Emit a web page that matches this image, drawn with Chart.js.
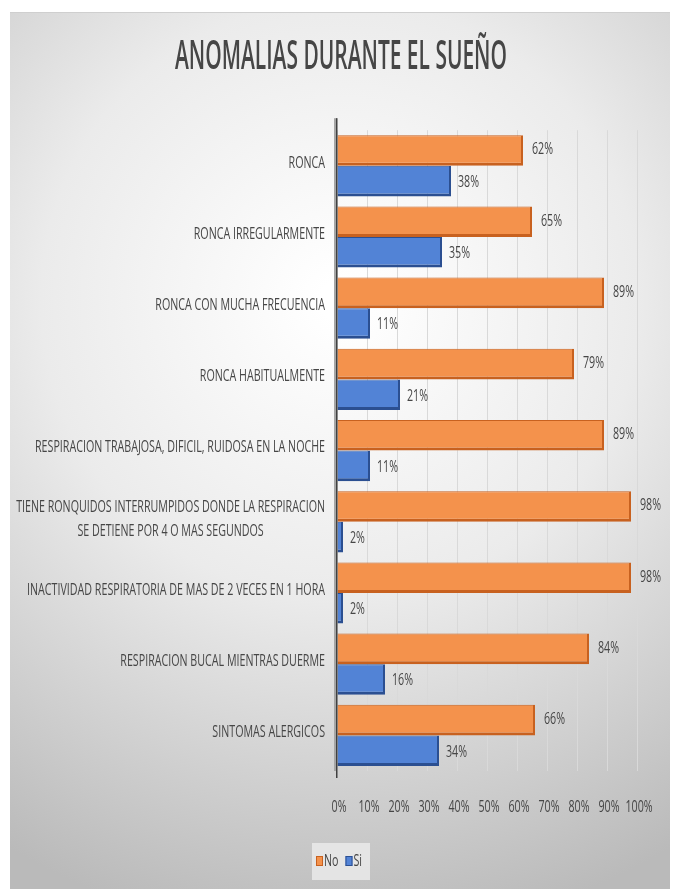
<!DOCTYPE html>
<html>
<head>
<meta charset="utf-8">
<script src="https://cdn.jsdelivr.net/npm/chart.js@4/dist/chart.umd.min.js"></script>
<style>
  html, body { margin: 0; padding: 0; background: #fff; }
  #wrap { width: 676px; height: 889px; }
</style>
</head>
<body>
<div id="wrap"><canvas id="sleepChart"></canvas></div>
<script>
const title = 'ANOMALIAS DURANTE EL SUEÑO';
const categories = [
  'RONCA',
  'RONCA IRREGULARMENTE',
  'RONCA CON MUCHA FRECUENCIA',
  'RONCA HABITUALMENTE',
  'RESPIRACION TRABAJOSA, DIFICIL, RUIDOSA EN LA NOCHE',
  ['TIENE RONQUIDOS INTERRUMPIDOS DONDE LA RESPIRACION', 'SE DETIENE POR 4 O MAS SEGUNDOS'],
  'INACTIVIDAD RESPIRATORIA DE MAS DE 2 VECES EN 1 HORA',
  'RESPIRACION BUCAL MIENTRAS DUERME',
  'SINTOMAS ALERGICOS',
];
const noValues = [62, 65, 89, 79, 89, 98, 98, 84, 66];
const siValues = [38, 35, 11, 21, 11, 2, 2, 16, 34];
const xTicks = [0, 10, 20, 30, 40, 50, 60, 70, 80, 90, 100];

const FAMILY = '"Open Sans", "Noto Sans", sans-serif';
const TEXT = '#464646';
const LABEL_FONT = '17px ' + FAMILY;

// Excel's narrow face isn't installed, so squeeze a normal one horizontally
function squeezed(ctx, text, x, y, align, sx) {
  ctx.save();
  ctx.translate(x, y);
  ctx.scale(sx, 1);
  ctx.textAlign = align;
  ctx.fillText(text, 0, 0);
  ctx.restore();
}

function fitScale(ctx, font, text, target) {
  ctx.save();
  ctx.font = font;
  const w = ctx.measureText(text).width;
  ctx.restore();
  return target / w;
}

const backdrop = {
  id: 'backdrop',
  beforeDraw(chart) {
    const { ctx, width, height } = chart;
    ctx.save();
    ctx.fillStyle = '#ffffff';
    ctx.fillRect(0, 0, width, height);
    const g = ctx.createRadialGradient(340, 300, 20, 340, 300, 640);
    g.addColorStop(0, '#ffffff');
    g.addColorStop(0.45, '#ebebeb');
    g.addColorStop(1, '#bababa');
    ctx.fillStyle = g;
    ctx.fillRect(10, 12, 660, height - 12);
    ctx.strokeStyle = '#cfcfcf';
    ctx.beginPath();
    ctx.moveTo(10, 12.5);
    ctx.lineTo(670, 12.5);
    ctx.stroke();
    ctx.restore();
  },
  afterDraw(chart) {
    const { ctx, chartArea, scales } = chart;
    ctx.save();
    // left wall of the axis
    ctx.fillStyle = '#a6a6a6';
    ctx.fillRect(chartArea.left - 3, chartArea.top - 12, 3, chartArea.bottom - chartArea.top + 12);
    ctx.fillStyle = '#404040';
    ctx.fillRect(chartArea.left - 1, chartArea.top - 12, 1.5, chartArea.bottom - chartArea.top + 19);

    ctx.fillStyle = TEXT;
    ctx.textBaseline = 'middle';

    // title
    const tFont = '600 39px ' + FAMILY;
    const tsx = fitScale(ctx, tFont, title, 332);
    ctx.font = tFont;
    squeezed(ctx, title, 341, 58, 'center', tsx);

    // category labels
    const lsx = fitScale(ctx, LABEL_FONT, categories[4], 290);
    ctx.font = LABEL_FONT;
    const y = scales.y;
    categories.forEach((label, i) => {
      const cy = y.getPixelForTick(i) - 3;
      if (Array.isArray(label)) {
        const block = Math.max(...label.map((l) => ctx.measureText(l).width)) * lsx;
        const mid = chartArea.left - 12 - block / 2;
        label.forEach((line, k) => {
          squeezed(ctx, line, mid, cy + (k - (label.length - 1) / 2) * 24, 'center', lsx);
        });
      } else {
        squeezed(ctx, label, chartArea.left - 12, cy, 'right', lsx);
      }
    });

    // x tick labels
    const x = scales.x;
    xTicks.forEach((v) => {
      squeezed(ctx, v + '%', x.getPixelForValue(v) + 2, chartArea.bottom + 36, 'center', lsx);
    });

    // legend
    ctx.fillStyle = 'rgba(234, 234, 234, 0.85)';
    ctx.fillRect(312, 843, 58, 37);
    const items = chart.data.datasets;
    let lx = 316;
    items.forEach((ds) => {
      ctx.fillStyle = ds.backgroundColor;
      ctx.fillRect(lx, 856, 7, 10);
      ctx.strokeStyle = ds.borderColor;
      ctx.lineWidth = 1;
      ctx.strokeRect(lx + 0.5, 856.5, 6, 9);
      ctx.fillStyle = TEXT;
      squeezed(ctx, ds.label, lx + 8, 861, 'left', lsx);
      lx += 8 + ctx.measureText(ds.label).width * lsx + 7;
    });
    ctx.restore();
  },
};

const valueLabels = {
  id: 'valueLabels',
  afterDatasetsDraw(chart) {
    const { ctx } = chart;
    ctx.save();
    const sx = fitScale(ctx, LABEL_FONT, categories[4], 290);
    ctx.font = LABEL_FONT;
    ctx.fillStyle = TEXT;
    ctx.textBaseline = 'middle';
    chart.data.datasets.forEach((ds, di) => {
      const meta = chart.getDatasetMeta(di);
      meta.data.forEach((bar, i) => {
        const dy = di === 0 ? -1 : 1;
        const dx = di === 0 ? 9 : 7;
        squeezed(ctx, ds.data[i] + '%', bar.x + dx, bar.y + dy, 'left', sx);
      });
    });
    ctx.restore();
  },
};

new Chart(document.getElementById('sleepChart'), {
  type: 'bar',
  data: {
    labels: categories,
    datasets: [
      {
        label: 'No',
        data: noValues,
        backgroundColor: '#f4924c',
        borderColor: '#c8611f',
        borderWidth: { top: 1, right: 2, bottom: 3, left: 0 },
        borderSkipped: false,
      },
      {
        label: 'Si',
        data: siValues,
        backgroundColor: '#5283d6',
        borderColor: '#2b4f91',
        borderWidth: { top: 1, right: 2, bottom: 3, left: 0 },
        borderSkipped: false,
      },
    ],
  },
  options: {
    indexAxis: 'y',
    responsive: true,
    maintainAspectRatio: false,
    animation: false,
    layout: { padding: { left: 0, right: 39, top: 0, bottom: 0 } },
    datasets: {
      bar: { categoryPercentage: 0.86, barPercentage: 1.0 },
    },
    scales: {
      x: {
        min: 0,
        max: 100,
        afterBuildTicks(scale) {
          scale.ticks = xTicks.map((v) => ({ value: v }));
        },
        afterFit(scale) {
          scale.height = 118;
        },
        grid: { color: '#d9d9d9', drawTicks: false },
        border: { display: false },
        ticks: { display: false },
      },
      y: {
        afterFit(scale) {
          scale.width = 337;
        },
        grid: { display: false, drawTicks: false },
        border: { display: false },
        ticks: { display: false },
      },
    },
    plugins: {
      title: {
        display: true,
        text: title,
        color: 'rgba(0,0,0,0)',
        font: { family: FAMILY, size: 31, weight: 'normal' },
        padding: { top: 41, bottom: 52 },
      },
      legend: { display: false },
      tooltip: { enabled: false },
    },
  },
  plugins: [backdrop, valueLabels],
});
</script>
</body>
</html>
